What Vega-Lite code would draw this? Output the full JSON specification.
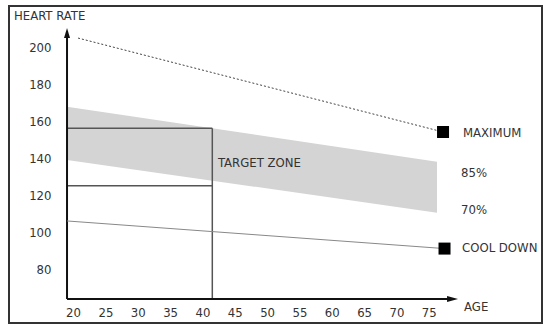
{
  "$schema": "https://vega.github.io/schema/vega-lite/v6.json",
  "width": 533,
  "height": 317,
  "autosize": {"type": "none"},
  "padding": {"left": 9, "top": 6, "right": 8, "bottom": 8},
  "background": "white",
  "config": {
    "view": {"stroke": "#333333", "strokeWidth": 2},
    "font": "DejaVu Sans Condensed"
  },
  "datasets": {
    "band": [
      {"age": 19.07, "lo": 139.2, "hi": 168.1},
      {"age": 76.27, "lo": 110.6, "hi": 138.3}
    ],
    "box": [
      {"x1": 19.07, "x2": 41.53, "y1": 156.4, "y2": 156.4},
      {"x1": 19.07, "x2": 41.53, "y1": 125.2, "y2": 125.2},
      {"x1": 41.53, "x2": 41.53, "y1": 63.7, "y2": 156.4}
    ],
    "axes": [
      {"x1": 19.07, "x2": 19.07, "y1": 63.7, "y2": 206.0},
      {"x1": 19.07, "x2": 78.2, "y1": 63.7, "y2": 63.7}
    ],
    "maxline": [
      {"age": 20.77, "hr": 205.4},
      {"age": 77.2, "hr": 154.4}
    ],
    "coolline": [
      {"age": 19.07, "hr": 106.1},
      {"age": 77.43, "hr": 91.1}
    ],
    "squares": [
      {"age": 77.2, "hr": 154.4},
      {"age": 77.43, "hr": 91.1}
    ],
    "labels": [
      {"age": 10.87, "hr": 217.4, "text": "HEART RATE"},
      {"age": 42.4, "hr": 137.6, "text": "TARGET ZONE"},
      {"age": 80.29, "hr": 153.7, "text": "MAXIMUM"},
      {"age": 79.98, "hr": 132.0, "text": "85%"},
      {"age": 79.98, "hr": 112.0, "text": "70%"},
      {"age": 80.14, "hr": 91.3, "text": "COOL DOWN"},
      {"age": 80.45, "hr": 59.4, "text": "AGE"}
    ]
  },
  "layer": [
    {
      "data": {"name": "band"},
      "mark": {"type": "area", "color": "#d4d4d4", "opacity": 1},
      "encoding": {
        "x": {
          "field": "age", "type": "quantitative",
          "scale": {"domain": [10.1, 92.5], "nice": false, "zero": false},
          "axis": {
            "orient": "bottom", "offset": -24, "domain": false, "ticks": false, "grid": false,
            "labelPadding": 7, "values": [20, 25, 30, 35, 40, 45, 50, 55, 60, 65, 70, 75],
            "labelFont": "DejaVu Sans Condensed", "labelFontSize": 13, "labelColor": "#333333",
            "title": null
          }
        },
        "y": {
          "field": "hi", "type": "quantitative",
          "scale": {"domain": [50.7, 222.8], "nice": false, "zero": false},
          "axis": {
            "orient": "left", "offset": -58, "domain": false, "ticks": false, "grid": false,
            "labelPadding": 16, "values": [80, 100, 120, 140, 160, 180, 200],
            "labelFont": "DejaVu Sans Condensed", "labelFontSize": 13, "labelColor": "#333333",
            "title": null
          }
        },
        "y2": {"field": "lo"}
      }
    },
    {
      "data": {"name": "box"},
      "mark": {"type": "rule", "color": "#555555", "strokeWidth": 1.5},
      "encoding": {
        "x": {"field": "x1", "type": "quantitative"},
        "x2": {"field": "x2"},
        "y": {"field": "y1", "type": "quantitative"},
        "y2": {"field": "y2"}
      }
    },
    {
      "data": {"name": "axes"},
      "mark": {"type": "rule", "color": "#111111", "strokeWidth": 2},
      "encoding": {
        "x": {"field": "x1", "type": "quantitative"},
        "x2": {"field": "x2"},
        "y": {"field": "y1", "type": "quantitative"},
        "y2": {"field": "y2"}
      }
    },
    {
      "data": {"values": [{"age": 19.07, "hr": 208.1}]},
      "mark": {"type": "point", "shape": "M0,-1L0.6,1L-0.6,1Z", "size": 100, "filled": true, "color": "#111111", "opacity": 1},
      "encoding": {
        "x": {"field": "age", "type": "quantitative"},
        "y": {"field": "hr", "type": "quantitative"}
      }
    },
    {
      "data": {"values": [{"age": 78.67, "hr": 63.7}]},
      "mark": {"type": "point", "shape": "M1,0L-1,0.55L-1,-0.55Z", "size": 121, "filled": true, "color": "#111111", "opacity": 1},
      "encoding": {
        "x": {"field": "age", "type": "quantitative"},
        "y": {"field": "hr", "type": "quantitative"}
      }
    },
    {
      "data": {"name": "maxline"},
      "mark": {"type": "line", "color": "#444444", "strokeWidth": 1, "strokeDash": [2, 2]},
      "encoding": {
        "x": {"field": "age", "type": "quantitative"},
        "y": {"field": "hr", "type": "quantitative"}
      }
    },
    {
      "data": {"name": "coolline"},
      "mark": {"type": "line", "color": "#888888", "strokeWidth": 1},
      "encoding": {
        "x": {"field": "age", "type": "quantitative"},
        "y": {"field": "hr", "type": "quantitative"}
      }
    },
    {
      "data": {"name": "squares"},
      "mark": {"type": "point", "shape": "square", "size": 144, "filled": true, "color": "#000000", "opacity": 1},
      "encoding": {
        "x": {"field": "age", "type": "quantitative"},
        "y": {"field": "hr", "type": "quantitative"}
      }
    },
    {
      "data": {"name": "labels"},
      "mark": {"type": "text", "align": "left", "baseline": "middle", "font": "DejaVu Sans Condensed", "fontSize": 13, "color": "#333333"},
      "encoding": {
        "x": {"field": "age", "type": "quantitative"},
        "y": {"field": "hr", "type": "quantitative"},
        "text": {"field": "text"}
      }
    }
  ]
}
